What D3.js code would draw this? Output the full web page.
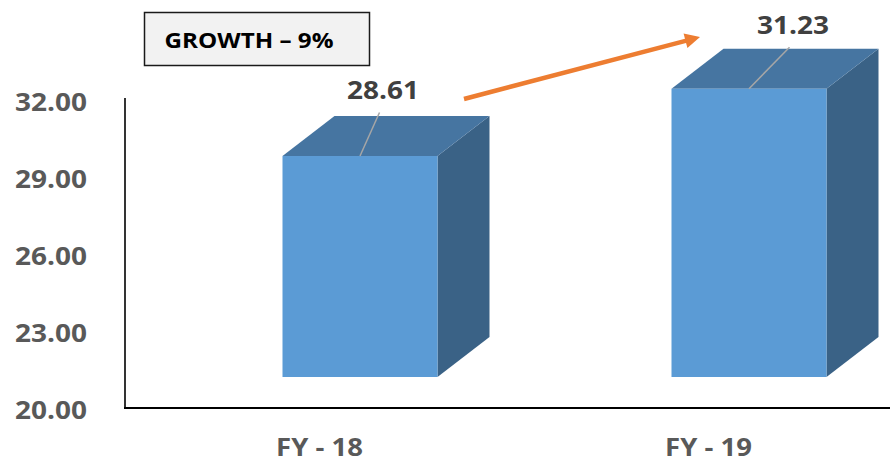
<!DOCTYPE html>
<html>
<head>
<meta charset="utf-8">
<script src="https://cdn.jsdelivr.net/npm/d3@7"></script>
<style>
  html, body { margin: 0; padding: 0; background: #ffffff; }
  svg { display: block; }
  text { font-family: "Open Sans", "Noto Sans", sans-serif; font-weight: 700; }
</style>
</head>
<body>
<svg id="chart" width="890" height="463"></svg>
<script>
// Data
const categories = ["FY - 18", "FY - 19"];
const values = [28.61, 31.23];
const yTicks = [20, 23, 26, 29, 32];
const growthText = "GROWTH – 9%";

// Layout
const stretch = 1.12;              // horizontal text widening
const depth = { dx: 52, dy: -40 }; // 3D box depth offset
const floorLift = 32;              // front face sits above the axis floor
const barW = 155;
const labelNudge = [[23, -57], [44, -55]];

const svg = d3.select("#chart");

const y = d3.scaleLinear().domain([20, 32]).range([409, 101]);
const x = d3.scaleBand().domain(categories).range([125, 903]);

// Axes
const yAxis = d3.axisLeft(y).tickValues(yTicks).tickSize(0).tickFormat(d3.format(".2f"));
const gy = svg.append("g").attr("transform", "translate(125,0)").call(yAxis);
gy.select(".domain").remove();
gy.selectAll("text")
  .attr("x", 0).attr("dy", "0.36em")
  .attr("transform", `translate(-38,0) scale(${stretch},1)`)
  .attr("text-anchor", "end")
  .attr("fill", "#595959")
  .style("font-size", "25px");

svg.append("line").attr("x1", 125).attr("x2", 125).attr("y1", 98).attr("y2", 408)
  .attr("stroke", "#000").attr("stroke-width", 1.6);
svg.append("line").attr("x1", 124).attr("x2", 890).attr("y1", 408).attr("y2", 408)
  .attr("stroke", "#000").attr("stroke-width", 2);

const xAxis = d3.axisBottom(x).tickSize(0);
const gx = svg.append("g").attr("transform", "translate(0,408)").call(xAxis);
gx.select(".domain").remove();
gx.selectAll("text")
  .attr("y", 0).attr("dy", 0)
  .attr("transform", `translate(0,48) scale(1.1,1)`)
  .attr("fill", "#595959")
  .style("font-size", "25px");

// 3D bars
const bars = svg.append("g");
categories.forEach((c, i) => {
  const x0 = x(c) + x.bandwidth() / 2 - 37;
  const yt = y(values[i]) - floorLift;
  const yb = y(20) - floorLift;
  const { dx, dy } = depth;
  const pts = a => a.map(p => p.join(",")).join(" ");
  bars.append("polygon")
    .attr("points", pts([[x0 + barW, yt], [x0 + barW + dx, yt + dy], [x0 + barW + dx, yb + dy], [x0 + barW, yb]]))
    .attr("fill", "#3a6286");
  bars.append("polygon")
    .attr("points", pts([[x0, yt], [x0 + dx, yt + dy], [x0 + barW + dx, yt + dy], [x0 + barW, yt]]))
    .attr("fill", "#4675a1");
  bars.append("rect")
    .attr("x", x0).attr("y", yt).attr("width", barW).attr("height", yb - yt)
    .attr("fill", "#5b9bd5");

  // value label with leader line
  const lx = x0 + barW / 2, ly = yt;
  const tx = lx + labelNudge[i][0], ty = ly + labelNudge[i][1];
  svg.append("line")
    .attr("x1", lx).attr("y1", ly).attr("x2", tx - 3.5).attr("y2", ty + 13.5)
    .attr("stroke", "#a6a6a6").attr("stroke-width", 1.5);
  svg.append("text")
    .attr("transform", `translate(${tx},${ty}) scale(${stretch},1)`)
    .attr("text-anchor", "middle")
    .attr("fill", "#404040")
    .style("font-size", "25px")
    .text(values[i].toFixed(2));
});

// Growth arrow
const a0 = [464, 99], a1 = [700, 37];
const ang = Math.atan2(a1[1] - a0[1], a1[0] - a0[0]);
const headL = 15, headW = 7.5;
const base = [a1[0] - headL * Math.cos(ang), a1[1] - headL * Math.sin(ang)];
svg.append("line")
  .attr("x1", a0[0]).attr("y1", a0[1]).attr("x2", base[0] + Math.cos(ang)).attr("y2", base[1] + Math.sin(ang))
  .attr("stroke", "#ed7d31").attr("stroke-width", 4.5);
svg.append("polygon")
  .attr("points", [
    a1,
    [base[0] - headW * Math.sin(ang), base[1] + headW * Math.cos(ang)],
    [base[0] + headW * Math.sin(ang), base[1] - headW * Math.cos(ang)]
  ].map(p => p.join(",")).join(" "))
  .attr("fill", "#ed7d31");

// Growth box
svg.append("rect")
  .attr("x", 144.5).attr("y", 12.5).attr("width", 225).attr("height", 53)
  .attr("fill", "#f2f2f2").attr("stroke", "#1a1a1a").attr("stroke-width", 1.5);
svg.append("text")
  .attr("transform", `translate(249,48) scale(1.1,1)`)
  .attr("text-anchor", "middle")
  .attr("fill", "#000")
  .style("font-size", "22px")
  .text(growthText);
</script>
</body>
</html>
